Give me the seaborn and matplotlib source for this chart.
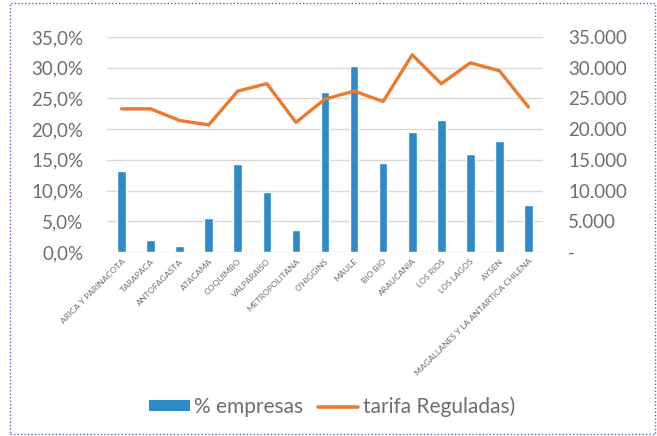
import matplotlib
matplotlib.use("Agg")
import matplotlib.pyplot as plt
import matplotlib.patches as mpatches
from matplotlib.lines import Line2D
from matplotlib.ticker import FuncFormatter, MultipleLocator
import pandas as pd
import seaborn as sns

regiones = [
    "ARICA Y PARINACOTA", "TARAPACA", "ANTOFAGASTA", "ATACAMA", "COQUIMBO",
    "VALPARAISO", "METROPOLITANA", "O'HIGGINS", "MAULE", "BIO BIO",
    "ARAUCANIA", "LOS RIOS", "LOS LAGOS", "AYSEN",
    "MAGALLANES Y LA ANTARTICA CHILENA",
]
pct_empresas = [13.2, 1.9, 0.9, 5.5, 14.3, 9.8, 3.6, 26.0, 30.2, 14.5,
                19.6, 21.5, 16.0, 18.1, 7.6]
tarifa_reguladas = [23300, 23300, 21400, 20700, 26200, 27400, 21100, 24900,
                    26200, 24500, 32100, 27400, 30800, 29500, 23600]

df = pd.DataFrame({"region": regiones, "empresas": pct_empresas,
                   "tarifa": tarifa_reguladas})

sns.set_theme(style="white")
plt.rcParams["font.family"] = ["Lato", "DejaVu Sans"]

BLUE = "#2E8BC8"
ORANGE = "#EB7A2E"
GREY_TXT = "#6e6e6e"
GRID = "#d9d9d9"

fig = plt.figure(figsize=(6.57, 4.36), dpi=100)
fig.patch.set_facecolor("white")
ax = fig.add_axes([107 / 657, 1 - 252 / 436, 436 / 657, 215 / 436])

sns.barplot(data=df, x="region", y="empresas", color=BLUE, width=0.3,
            saturation=1, ax=ax, zorder=3)
ax.set_ylim(0, 35)
ax.yaxis.set_major_locator(MultipleLocator(5))
ax.yaxis.set_major_formatter(FuncFormatter(lambda v, p: f"{v:.1f}%".replace(".", ",")))
ax.set_xlim(-0.5, len(regiones) - 0.5)
ax.grid(axis="y", color=GRID, linewidth=1.0, zorder=0)
ax.set_axisbelow(True)
for s in ax.spines.values():
    s.set_visible(False)
ax.set_xlabel("")
ax.set_ylabel("")
ax.tick_params(axis="y", length=0, pad=17, labelsize=13.5, labelcolor=GREY_TXT)
ax.tick_params(axis="x", length=0, pad=4)
ax.set_xticks(range(len(regiones)))
ax.set_xticklabels(regiones, rotation=45, ha="right", rotation_mode="anchor",
                   fontsize=6.1, color=GREY_TXT)

ax2 = ax.twinx()
sns.lineplot(data=df, x="region", y="tarifa", color=ORANGE, linewidth=2.4,
             ax=ax2, sort=False, zorder=4)
ax2.set_ylim(0, 35000)
ax2.yaxis.set_major_locator(MultipleLocator(5000))
ax2.yaxis.set_major_formatter(
    FuncFormatter(lambda v, p: "-" if v == 0 else f"{int(v):,}".replace(",", ".")))
for s in ax2.spines.values():
    s.set_visible(False)
ax2.set_ylabel("")
ax2.set_xlabel("")
ax2.tick_params(axis="y", length=0, pad=18, labelsize=13.5, labelcolor=GREY_TXT)
ax2.set_xlim(-0.5, len(regiones) - 0.5)

handles = [
    mpatches.Rectangle((0, 0), 1, 1, facecolor=BLUE, edgecolor="none"),
    Line2D([0], [0], color=ORANGE, linewidth=2.6),
]
fig.legend(handles, ["% empresas", "tarifa Reguladas)"], loc="center",
           bbox_to_anchor=(332 / 657, 1 - 407 / 436), ncol=2, frameon=False,
           fontsize=15, labelcolor=GREY_TXT, handlelength=1.95,
           handleheight=0.45, handletextpad=0.2, columnspacing=0.7)

border = mpatches.Rectangle((10 / 657, 2 / 436), 645 / 657, 431 / 436,
                            transform=fig.transFigure, fill=False,
                            edgecolor="#5566c0", linewidth=1.0,
                            linestyle=(0, (1, 1.5)))
fig.patches.append(border)

fig.savefig("out.png", dpi=100, facecolor="white")
